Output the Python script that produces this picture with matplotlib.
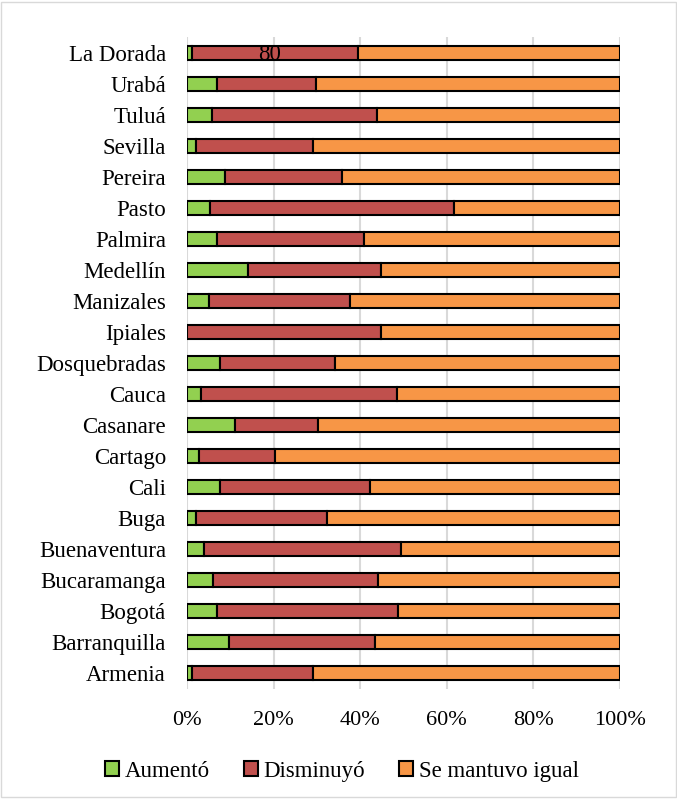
import numpy as np
import matplotlib.pyplot as plt
from matplotlib.patches import Rectangle

plt.rcParams['font.family'] = ['Liberation Serif', 'DejaVu Serif']

ciudades = ['Armenia', 'Barranquilla', 'Bogotá', 'Bucaramanga', 'Buenaventura', 'Buga',
            'Cali', 'Cartago', 'Casanare', 'Cauca', 'Dosquebradas', 'Ipiales', 'Manizales',
            'Medellín', 'Palmira', 'Pasto', 'Pereira', 'Sevilla', 'Tuluá', 'Urabá', 'La Dorada']

aumento = [1.3, 9.8, 6.9, 6.1, 4.0, 2.0, 7.6, 2.8, 11.2, 3.2, 7.6, 0.0, 5.2,
           14.2, 6.9, 5.3, 8.7, 2.2, 5.9, 6.9, 1.3]
# cumulative end of "Disminuyó"
fin_disminuyo = [29.0, 43.4, 48.8, 44.1, 49.5, 32.3, 42.2, 20.4, 30.3, 48.4, 34.3, 44.8, 37.7,
                 44.7, 40.9, 61.7, 35.8, 29.1, 43.9, 29.8, 39.4]

aumento = np.array(aumento)
disminuyo = np.array(fin_disminuyo) - aumento
igual = 100 - aumento - disminuyo

fig = plt.figure(figsize=(6.77, 7.99), dpi=100)
ax = fig.add_axes([0.276, 0.1377, 0.640, 0.816])

y = np.arange(len(ciudades))
kw = dict(height=0.45, edgecolor='black', linewidth=1.5, zorder=3)
ax.barh(y, aumento, color='#92D050', label='Aumentó', **kw)
ax.barh(y, disminuyo, left=aumento, color='#C0504D', label='Disminuyó', **kw)
ax.barh(y, igual, left=aumento + disminuyo, color='#F79646', label='Se mantuvo igual', **kw)

# stray label left in the original
ax.text(19.2, 19.95, '80', ha='center', va='center', fontsize=16.5, zorder=4)

ax.set_xlim(0, 100)
ax.set_ylim(-0.5, len(ciudades) - 0.5)
ax.set_yticks(y)
ax.set_yticklabels(ciudades, fontsize=16.5)
ax.set_xticks(np.arange(0, 101, 20))
ax.set_xticklabels([f'{v}%' for v in range(0, 101, 20)], fontsize=16)
ax.tick_params(axis='y', length=0, pad=15)
ax.tick_params(axis='x', length=0, pad=15.5)
ax.grid(True, axis='x', color='#D9D9D9', linewidth=1.5, zorder=0)
for s in ax.spines.values():
    s.set_visible(False)

fig.legend(loc='center', bbox_to_anchor=(0.505, 0.035), ncol=3, frameon=False,
           prop={'family': 'Liberation Serif', 'size': 16.5},
           handlelength=0.6, handleheight=0.6, handletextpad=0.25,
           columnspacing=1.5)

fig.patches.append(Rectangle((0.002, 0.002), 0.996, 0.996, transform=fig.transFigure,
                             fill=False, edgecolor='#D9D9D9', linewidth=1))

plt.savefig('out.png', dpi=100)
